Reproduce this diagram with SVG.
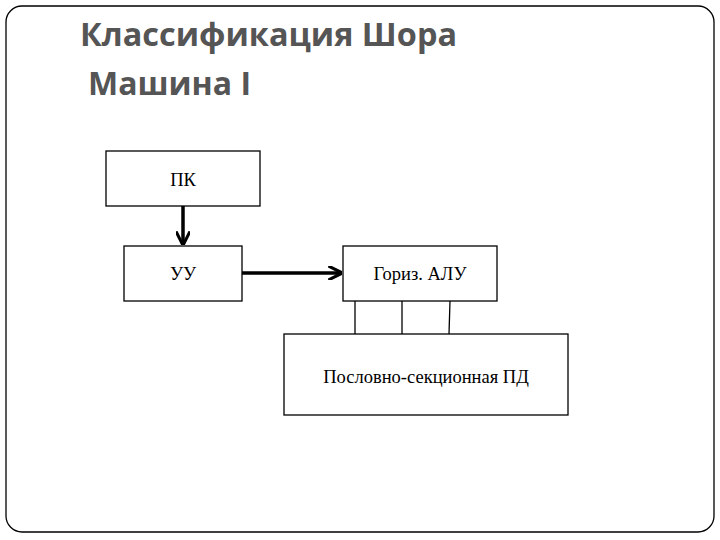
<svg xmlns="http://www.w3.org/2000/svg" width="720" height="540" viewBox="0 0 720 540">
<style>
.box{fill:#fff;stroke:#000;stroke-width:1.3}
.lbl{font-family:"Liberation Serif",serif;font-size:18.5px;fill:#000}
.ttl{font-family:"Open Sans","DejaVu Sans",sans-serif;font-weight:bold;font-size:32px;fill:#555}
.con{stroke:#000;fill:none}
</style>
<defs><marker id="ah" viewBox="0 0 10 10" refX="9" refY="5" markerWidth="4" markerHeight="4" orient="auto"><path d="M0,0 L10,5 L0,10" fill="none" stroke="#000" stroke-width="2.2"/></marker></defs>
<rect width="720" height="540" fill="#fff"/>
<rect x="6" y="6" width="708" height="526" rx="16" fill="#fff" stroke="#000" stroke-width="1.3"/>
<text class="ttl" x="80" y="46" textLength="377" lengthAdjust="spacingAndGlyphs">Классификация Шора</text>
<text class="ttl" x="88" y="95">Машина I</text>
<g id="pk"><rect class="box" x="106" y="151" width="154" height="55"/><text class="lbl" x="183" y="186" text-anchor="middle">ПК</text></g>
<g id="uu"><rect class="box" x="124" y="246" width="118" height="55"/><text class="lbl" x="183" y="280" text-anchor="middle">УУ</text></g>
<g id="alu"><rect class="box" x="343" y="246" width="154" height="55"/><text class="lbl" x="420" y="280" text-anchor="middle">Гориз. АЛУ</text></g>
<g id="pd"><rect class="box" x="284" y="334" width="284" height="81"/><text class="lbl" x="426" y="383" text-anchor="middle">Пословно-секционная ПД</text></g>
<g id="connectors">
<line class="con" x1="183" y1="206" x2="183" y2="244" stroke-width="3.5" marker-end="url(#ah)"/>
<line class="con" x1="242" y1="273" x2="341" y2="273" stroke-width="3.5" marker-end="url(#ah)"/>
<line class="con" x1="355" y1="301" x2="355" y2="334" stroke-width="1.3"/>
<line class="con" x1="402" y1="301" x2="402" y2="334" stroke-width="1.3"/>
<line class="con" x1="450" y1="301" x2="449" y2="334" stroke-width="1.3"/>
</g>
</svg>
